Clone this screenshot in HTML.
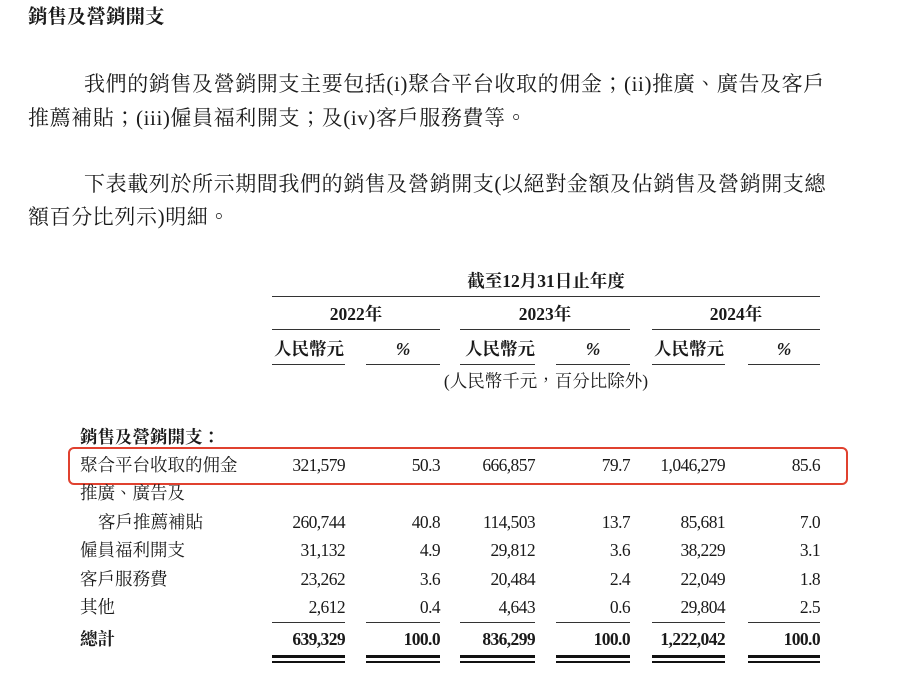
<!DOCTYPE html>
<html><head><meta charset="utf-8"><style>
body{margin:0;width:900px;height:691px;background:#fff;position:relative;overflow:hidden;font-family:"Liberation Serif","Noto Serif CJK TC","Noto Serif CJK SC",serif;color:#1a1a1a}
.t{position:absolute;white-space:nowrap;line-height:1}
.p{font-size:21px;letter-spacing:0.6px}
.d{font-size:17.5px}
.n{letter-spacing:-0.6px}
.r{text-align:right}
.c{text-align:center}
.ln{position:absolute;height:1.2px;background:#333}
.b{font-weight:bold}
</style></head><body>
<div class="t b" style="left:28px;top:8px;font-size:19.5px;">銷售及營銷開支</div>
<div class="t p" style="left:84px;top:74px;">我們的銷售及營銷開支主要包括(i)聚合平台收取的佣金；(ii)推廣、廣告及客戶</div>
<div class="t p" style="left:28px;top:108px;">推薦補貼；(iii)僱員福利開支；及(iv)客戶服務費等。</div>
<div class="t p" style="left:84px;top:174px;">下表載列於所示期間我們的銷售及營銷開支(以絕對金額及佔銷售及營銷開支總</div>
<div class="t p" style="left:28px;top:207px;">額百分比列示)明細。</div>

<div class="t d b c" style="left:272px;width:548px;top:273px;">截至12月31日止年度</div>
<div class="ln" style="left:272px;width:548px;top:296px"></div>
<div class="t d b c" style="left:272px;width:168px;top:306px;">2022年</div>
<div class="t d b c" style="left:460px;width:170px;top:306px;">2023年</div>
<div class="t d b c" style="left:652px;width:168px;top:306px;">2024年</div>
<div class="ln" style="left:272px;width:168px;top:329px"></div>
<div class="ln" style="left:460px;width:170px;top:329px"></div>
<div class="ln" style="left:652px;width:168px;top:329px"></div>
<div class="t d b" style="left:274px;top:341px;">人民幣元</div>
<div class="t d b c" style="left:366px;width:74px;top:341px;font-style:italic">%</div>
<div class="t d b" style="left:465px;top:341px;">人民幣元</div>
<div class="t d b c" style="left:556px;width:74px;top:341px;font-style:italic">%</div>
<div class="t d b" style="left:654px;top:341px;">人民幣元</div>
<div class="t d b c" style="left:748px;width:72px;top:341px;font-style:italic">%</div>
<div class="ln" style="left:272px;width:73px;top:364px"></div>
<div class="ln" style="left:366px;width:74px;top:364px"></div>
<div class="ln" style="left:460px;width:75px;top:364px"></div>
<div class="ln" style="left:556px;width:74px;top:364px"></div>
<div class="ln" style="left:652px;width:73px;top:364px"></div>
<div class="ln" style="left:748px;width:72px;top:364px"></div>
<div class="t d c" style="left:272px;width:548px;top:373px;">(人民幣千元，百分比除外)</div>

<div class="t d b" style="left:80px;top:429px;">銷售及營銷開支：</div>
<div style="position:absolute;left:68px;top:447px;width:776px;height:34px;border:2.5px solid #e0412f;border-radius:6px"></div>

<div id="rows"></div>
<div class="t d" style="left:80px;top:457px;">聚合平台收取的佣金</div>
<div class="t d" style="left:80px;top:485px;">推廣、廣告及</div>
<div class="t d" style="left:98px;top:514px;">客戶推薦補貼</div>
<div class="t d" style="left:80px;top:542px;">僱員福利開支</div>
<div class="t d" style="left:80px;top:571px;">客戶服務費</div>
<div class="t d" style="left:80px;top:599px;">其他</div>
<div class="t d b" style="left:80px;top:631px;">總計</div>

<script>
var rows=[[457,"321,579","50.3","666,857","79.7","1,046,279","85.6"],
[514,"260,744","40.8","114,503","13.7","85,681","7.0"],
[542,"31,132","4.9","29,812","3.6","38,229","3.1"],
[571,"23,262","3.6","20,484","2.4","22,049","1.8"],
[599,"2,612","0.4","4,643","0.6","29,804","2.5"],
[631,"639,329","100.0","836,299","100.0","1,222,042","100.0"]];
var rights=[345,440,535,630,725,820],h="";
rows.forEach(function(r,i){for(var k=0;k<6;k++){h+='<div class="t d n r'+(i==5?' b':'')+'" style="left:'+(rights[k]-120)+'px;width:120px;top:'+r[0]+'px">'+r[k+1]+'</div>';}});
var L=[[272,73],[366,74],[460,75],[556,74],[652,73],[748,72]];
L.forEach(function(l){h+='<div class="ln" style="left:'+l[0]+'px;width:'+l[1]+'px;top:622px"></div>';
h+='<div style="position:absolute;left:'+l[0]+'px;width:'+l[1]+'px;top:655px;height:3px;background:#111"></div>';
h+='<div style="position:absolute;left:'+l[0]+'px;width:'+l[1]+'px;top:661px;height:1.5px;background:#111"></div>';});
document.getElementById('rows').innerHTML=h;
</script>
</body></html>
